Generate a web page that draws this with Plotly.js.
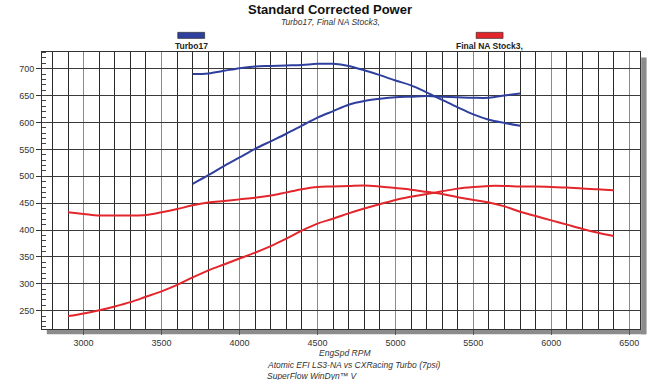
<!DOCTYPE html>
<html>
<head>
<meta charset="utf-8">
<script src="https://cdn.plot.ly/plotly-3.0.1.min.js"></script>
<style>html,body{margin:0;padding:0;background:#fff;}#chart{width:660px;height:380px;}</style>
</head>
<body>
<div id="chart"></div>
<script>
// Turbo17 (blue)
const rpmTurbo = [3700,3800,3900,4000,4100,4200,4300,4400,4500,4600,4700,4800,4900,5000,5100,5200,5300,5400,5500,5600,5700,5800];
const turboUpper = [690,691,696,701,704,705,706,707,709,709,705,697,688,678,669,656,642,628,615,605,599,594];
const turboLower = [486,502,519,535,551,565,579,594,609,621,633,640,644,647,648,649,648,647,646,646,650,654];
// Final NA Stock3 (red)
const rpmNA = [2900,3000,3100,3200,3300,3400,3500,3600,3700,3800,3900,4000,4100,4200,4300,4400,4500,4600,4700,4800,4900,5000,5100,5200,5300,5400,5500,5600,5700,5800,5900,6000,6100,6200,6300,6400];
const naUpper = [433,430,427,427,427,428,433,439,446,451,454,457,460,464,470,476,480,481,482,483,481,478,475,471,467,461,456,451,444,434,426,418,410,402,395,389];
const naLower = [240,245,251,258,266,276,286,298,312,325,336,347,358,370,384,399,412,421,431,440,448,456,462,467,472,477,480,482,482,481,481,480,479,477,476,474];
const xTicks = [3000,3500,4000,4500,5000,5500,6000,6500];
const yTicks = [250,300,350,400,450,500,550,600,650,700];

const BLUE = '#2f3f9e', RED = '#e3262c';
const FONT = 'Liberation Sans, Arial, Helvetica, sans-serif';

const traces = [
  {x: rpmTurbo, y: turboUpper, mode:'lines', line:{color:BLUE, width:2, shape:'spline'}, name:'Turbo17', hoverinfo:'skip'},
  {x: rpmTurbo, y: turboLower, mode:'lines', line:{color:BLUE, width:2, shape:'spline'}, name:'Turbo17', hoverinfo:'skip'},
  {x: rpmNA, y: naUpper, mode:'lines', line:{color:RED, width:2, shape:'spline'}, name:'Final NA Stock3,', hoverinfo:'skip'},
  {x: rpmNA, y: naLower, mode:'lines', line:{color:RED, width:2, shape:'spline'}, name:'Final NA Stock3,', hoverinfo:'skip'}
];

const layout = {
  width:660, height:380,
  margin:{l:42, r:20, t:52, b:51},
  paper_bgcolor:'#fff', plot_bgcolor:'#fff',
  showlegend:false,
  font:{family:FONT, color:'#333', size:9},
  title:{text:'<b>Standard Corrected Power</b>', font:{family:FONT, size:13, color:'#111'}, x:0.5, xanchor:'center', y:0.976, yanchor:'middle'},
  xaxis:{
    range:[2733,6569], tickvals:xTicks, ticktext:xTicks.map(String),
    ticks:'outside', ticklen:5, tickcolor:'#555', tickwidth:1,
    showgrid:true, gridcolor:'#8a8a8a', gridwidth:1.2,
    minor:{dtick:100, tick0:0, showgrid:true, gridcolor:'#2a2a2a', gridwidth:1, ticks:''},
    showline:true, mirror:true, linecolor:'#333', linewidth:1,
    zeroline:false, tickfont:{size:9, color:'#333'}, fixedrange:true
  },
  yaxis:{
    range:[216,731], tickvals:yTicks, ticktext:yTicks.map(String),
    ticks:'outside', ticklen:5, tickcolor:'#333',
    showgrid:true, gridcolor:'#3a3a3a', gridwidth:1,
    minor:{dtick:10, tick0:0, ticks:'inside', ticklen:4, tickcolor:'#444', showgrid:false},
    showline:true, mirror:true, linecolor:'#333', linewidth:1,
    zeroline:false, tickfont:{size:9, color:'#333'}, fixedrange:true
  },
  shapes:[
    {type:'rect', xref:'paper', yref:'paper', x0:0.008, x1:1.01, y0:-0.019, y1:-0.002, fillcolor:'#8c8c8c', line:{width:0}, layer:'below'},
    {type:'rect', xref:'paper', yref:'paper', x0:1.002, x1:1.011, y0:-0.019, y1:0.98, fillcolor:'#8c8c8c', line:{width:0}, layer:'below'},
    {type:'rect', xref:'paper', yref:'paper', x0:0.227, x1:0.272, y0:1.049, y1:1.071, fillcolor:BLUE, line:{color:'#222', width:0.6}},
    {type:'rect', xref:'paper', yref:'paper', x0:0.726, x1:0.771, y0:1.049, y1:1.071, fillcolor:RED, line:{color:'#222', width:0.6}}
  ],
  annotations:[
    {text:'<i>Turbo17, Final NA Stock3,</i>', xref:'paper', yref:'paper', x:0.482, y:1.108, showarrow:false, xanchor:'center', yanchor:'middle', font:{size:8.5, color:'#333'}},
    {text:'<b>Turbo17</b>', xref:'paper', yref:'paper', x:0.25, y:1.023, showarrow:false, xanchor:'center', yanchor:'middle', font:{size:8.5, color:'#222'}},
    {text:'<b>Final NA Stock3,</b>', xref:'paper', yref:'paper', x:0.749, y:1.023, showarrow:false, xanchor:'center', yanchor:'middle', font:{size:8.5, color:'#222'}},
    {text:'<i>EngSpd RPM</i>', xref:'paper', yref:'paper', x:0.507, y:-0.085, showarrow:false, xanchor:'center', yanchor:'middle', font:{size:8.5, color:'#333'}},
    {text:'<i>Atomic EFI LS3-NA vs CXRacing Turbo (7psi)</i>', xref:'paper', yref:'paper', x:0.373, y:-0.129, showarrow:false, xanchor:'left', yanchor:'middle', font:{size:8.5, color:'#333'}},
    {text:'<i>SuperFlow WinDyn™ V</i>', xref:'paper', yref:'paper', x:0.373, y:-0.168, showarrow:false, xanchor:'left', yanchor:'middle', font:{size:8.5, color:'#333'}}
  ]
};

Plotly.newPlot('chart', traces, layout, {displayModeBar:false, staticPlot:true});
</script>
</body>
</html>
